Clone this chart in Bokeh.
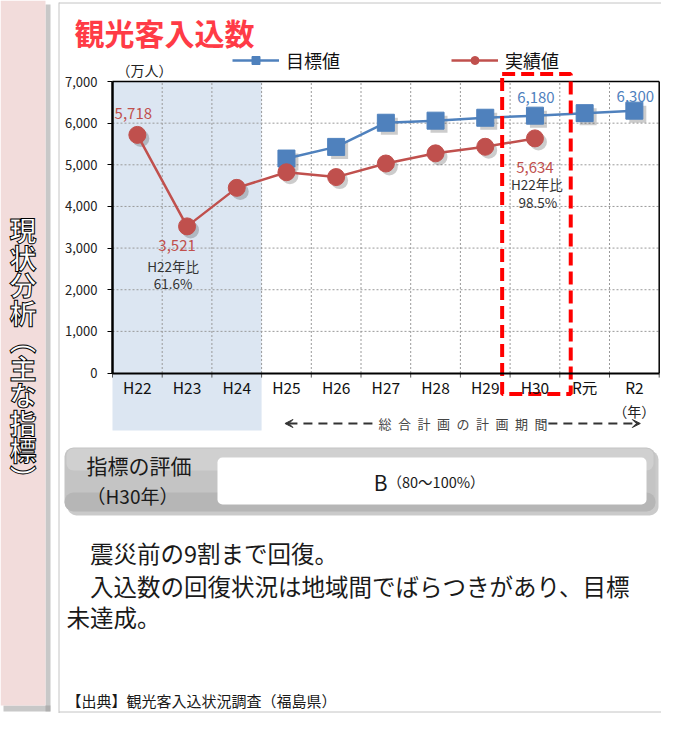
from bokeh.plotting import figure
from bokeh.models import (ColumnDataSource, Range1d, FixedTicker, NumeralTickFormatter,
                          LinearAxis, Legend, LegendItem, Arrow, VeeHead, BoxAnnotation)
from bokeh.core.properties import value
from bokeh.transform import dodge
from bokeh.embed import file_html
from bokeh.resources import INLINE

# ---------------- data ----------------
years = ["H22", "H23", "H24", "H25", "H26", "H27", "H28", "H29", "H30", "R元", "R2"]
target_years = ["H25", "H26", "H27", "H28", "H29", "H30", "R元", "R2"]
target_vals = [5150, 5430, 6010, 6060, 6130, 6180, 6240, 6300]
actual_years = ["H22", "H23", "H24", "H25", "H26", "H27", "H28", "H29", "H30"]
actual_vals = [5718, 3521, 4446, 4821, 4705, 5031, 5275, 5433, 5634]
y_ticks = [0, 1000, 2000, 3000, 4000, 5000, 6000, 7000]
shaded_years = ["H22", "H23", "H24"]
highlight_year = "H30"

title_text = "観光客入込数"
unit_text = "（万人）"
year_unit_text = "（年）"
period_text = "\u2002".join("総合計画の計画期間")
side_text = "現状分析︵主な指標︶"
eval_head = ["指標の評価", "（H30年）"]
eval_grade = "B"
eval_range = "（80〜100%）"
body_lines = ["\u3000震災前の9割まで回復。",
              "\u3000入込数の回復状況は地域間でばらつきがあり、目標",
              "未達成。"]
source_text = "【出典】観光客入込状況調査（福島県）"

BLUE = "#4F81BD"
RED = "#C0504D"
JP = "Noto Sans CJK JP"
FONT = value(JP)

W, H = 661, 713
# layout geometry (pixels inside the figure)
AX_X0 = 112.0          # left edge of the first category
CAT_W = 49.7           # width of one category
ZERO_Y = 372.5         # pixel row of value 0
PX_PER_UNIT = 41.64 / 1000.0

n = len(years)
x_lo = (0 - AX_X0) / CAT_W
x_hi = (W - AX_X0) / CAT_W
y_hi = ZERO_Y / PX_PER_UNIT
y_lo = (ZERO_Y - H) / PX_PER_UNIT

p = figure(width=W, height=H, x_range=Range1d(x_lo, x_hi), y_range=Range1d(y_lo, y_hi),
           toolbar_location=None, output_backend="svg", min_border=0,
           x_axis_location=None, y_axis_location=None, outline_line_color=None,
           background_fill_color="white", border_fill_color="white")
p.grid.visible = False
p.extra_x_ranges = {"px": Range1d(0, W)}
p.extra_y_ranges = {"py": Range1d(H, 0)}
PXR = dict(x_range_name="px", y_range_name="py")

pos = {y: i + 0.5 for i, y in enumerate(years)}

# ---------------- sidebar & panel frame ----------------
p.quad(left=[45], right=[50], top=[4], bottom=[711], fill_color="#9a9a9a",
       fill_alpha=0.55, line_color=None, **PXR)
p.quad(left=[3], right=[50], top=[705], bottom=[711], fill_color="#9a9a9a",
       fill_alpha=0.55, line_color=None, **PXR)
p.quad(left=[0], right=[45], top=[0], bottom=[705], fill_color="#F2DCDB",
       line_color=None, **PXR)
p.segment(x0=[58.5], x1=[58.5], y0=[2], y1=[H], line_color="#c4c4c4", line_width=1, **PXR)
p.segment(x0=[58.5], x1=[W], y0=[2.5], y1=[2.5], line_color="#c4c4c4", line_width=1,
          **PXR)
p.segment(x0=[58.5], x1=[W], y0=[H - 1.5], y1=[H - 1.5], line_color="#c4c4c4",
          line_width=1, **PXR)
chars = list(side_text)
p.text(x=[22.5] * len(chars), y=[229 + 27.5 * i for i in range(len(chars))], text=chars,
       text_font=FONT, text_font_size="27px", text_font_style="bold",
       text_color="white", text_outline_color="black",
       text_align="center", text_baseline="middle", **PXR)

# title
p.text(x=[74], y=[31], text=[title_text], text_font=FONT, text_font_size="30px",
       text_font_style="bold", text_color="#FF3B46", text_align="left",
       text_baseline="middle", **PXR)

# ---------------- chart ----------------
top_v = y_ticks[-1]
# shaded earthquake period
p.quad(left=[pos[shaded_years[0]] - 0.5], right=[pos[shaded_years[-1]] + 0.5],
       bottom=[-1381], top=[top_v], fill_color="#DCE6F2", line_color=None)

# grid
p.segment(x0=[0] * (len(y_ticks) - 1), x1=[n] * (len(y_ticks) - 1), y0=y_ticks[1:],
          y1=y_ticks[1:], line_color="#9a9a9a", line_dash="2 2", line_width=1)
p.segment(x0=list(range(1, n)), x1=list(range(1, n)), y0=[0] * (n - 1),
          y1=[top_v] * (n - 1), line_color="#9a9a9a", line_dash="2 2", line_width=1)
# small category-boundary ticks under the axis
p.segment(x0=list(range(0, n + 1)), x1=list(range(0, n + 1)), y0=[0] * (n + 1),
          y1=[-110] * (n + 1), line_color="#555555", line_width=1)
# plot box top / right
p.segment(x0=[0, n], x1=[n, n], y0=[top_v, 0], y1=[top_v, top_v], line_color="black",
          line_width=1.5)

# axes
xa = LinearAxis(fixed_location=0, bounds=(0, n),
                ticker=FixedTicker(ticks=[pos[y] for y in years]),
                major_label_overrides={pos[y]: y for y in years},
                axis_line_color="black", axis_line_width=2,
                major_tick_line_color=None, minor_tick_line_color=None,
                major_tick_in=0, major_tick_out=0,
                major_label_standoff=3, major_label_text_font=JP,
                major_label_text_font_size="15.5px", major_label_text_color="#111111")
p.add_layout(xa, "below")
ya_ax = LinearAxis(fixed_location=0, bounds=(y_ticks[0], y_ticks[-1]),
                   ticker=FixedTicker(ticks=y_ticks),
                   formatter=NumeralTickFormatter(format="0,0"),
                   axis_line_color="black", axis_line_width=2.5,
                   major_tick_in=0, major_tick_out=5, major_tick_line_color="black",
                   minor_tick_line_color=None, major_label_standoff=10,
                   major_label_text_font=JP, major_label_text_font_size="13px",
                   major_label_text_color="#222222")
p.add_layout(ya_ax, "left")

# series
tsrc = ColumnDataSource(dict(x=[pos[y] for y in target_years], y=target_vals))
asrc = ColumnDataSource(dict(x=[pos[y] for y in actual_years], y=actual_vals))
p.scatter(x=dodge("x", 0.07), y=dodge("y", -85), source=tsrc, marker="square", size=17,
          fill_color="black", fill_alpha=0.2, line_color=None)
p.scatter(x=dodge("x", 0.07), y=dodge("y", -85), source=asrc, marker="circle", size=17,
          fill_color="black", fill_alpha=0.2, line_color=None)
bl = p.line(x="x", y="y", source=tsrc, line_color=BLUE, line_width=2.5)
rl = p.line(x="x", y="y", source=asrc, line_color=RED, line_width=2.5)
bs = p.scatter(x="x", y="y", source=tsrc, marker="square", size=17, fill_color=BLUE,
               line_color=BLUE)
rs = p.scatter(x="x", y="y", source=asrc, marker="circle", size=17, fill_color=RED,
               line_color=RED)

# data labels
base = actual_vals[0]
low_i = actual_vals.index(min(actual_vals))
last_i = len(actual_vals) - 1
ht = target_years.index(highlight_year)
lab = dict(x=[pos[actual_years[0]], pos[actual_years[low_i]], pos[actual_years[last_i]],
              pos[target_years[ht]], pos[target_years[-1]]],
           y=[actual_vals[0], actual_vals[low_i], actual_vals[last_i],
              target_vals[ht], target_vals[-1]],
           xo=[-4, -10, 0, 1, 1], yo=[-21, 19, 29, -18, -14],
           c=[RED, RED, RED, BLUE, BLUE])
lab["t"] = [f"{v:,}" for v in lab["y"]]
p.text(x="x", y="y", text="t", x_offset="xo", y_offset="yo", text_color="c",
       source=ColumnDataSource(lab), text_font=FONT, text_font_size="15px",
       text_align="center", text_baseline="middle")
rat = dict(x=[pos[actual_years[low_i]]] * 2 + [pos[actual_years[last_i]]] * 2,
           y=[actual_vals[low_i]] * 2 + [actual_vals[last_i]] * 2,
           xo=[-14, -14, 2, 3], yo=[40, 57, 46, 64],
           t=[f"{actual_years[0]}年比", f"{actual_vals[low_i] / base * 100:.1f}%",
              f"{actual_years[0]}年比", f"{actual_vals[last_i] / base * 100:.1f}%"])
p.text(x="x", y="y", text="t", x_offset="xo", y_offset="yo", source=ColumnDataSource(rat),
       text_color="#333333", text_font=FONT, text_font_size="13.5px",
       text_align="center", text_baseline="middle")

# highlight box around H30
hc = pos[highlight_year]
p.quad(left=[hc - 0.66], right=[hc + 0.72], bottom=[-504], top=[7180],
       fill_color=None, line_color="#FF0000", line_width=4, line_dash="13 6")

# unit labels
p.text(x=[0], y=[top_v], text=[unit_text], x_offset=[4], y_offset=[-12],
       text_font=FONT, text_font_size="14px", text_color="#222222",
       text_align="left", text_baseline="middle")
p.text(x=[pos[years[-1]]], y=[0], text=[year_unit_text], y_offset=[38], text_font=FONT,
       text_font_size="14px", text_color="#222222", text_align="center",
       text_baseline="middle")

# planning period arrows
ya = -1213
for xs, xe in [(5.23, 3.47), (8.77, 10.62)]:
    p.add_layout(Arrow(x_start=xs, y_start=ya, x_end=xe, y_end=ya, line_color="#333333",
                       line_width=2, line_dash="9 6",
                       end=VeeHead(size=8, fill_color="#333333", line_color="#333333",
                                   line_width=1)))
p.text(x=[7.05], y=[ya], text=[period_text], text_font=FONT, text_font_size="13px",
       text_color="#444444", text_align="center", text_baseline="middle")

# legend
legend = Legend(items=[LegendItem(label="目標値", renderers=[bl, bs]),
                       LegendItem(label="実績値", renderers=[rl, rs])],
                orientation="horizontal", location=(232, 640), spacing=111,
                padding=0, margin=0, glyph_width=47, glyph_height=20,
                label_standoff=7, label_text_font=JP, label_text_font_size="18px",
                label_text_color="#111111", border_line_color=None,
                background_fill_alpha=0)
p.add_layout(legend)

# ---------------- evaluation box & text ----------------
for l, r, t, b, c, a, rad in [(67, 658, 450, 515, "#8a8a8a", 0.45, 9),
                              (64, 655, 447, 511, "#c4c4c4", 1.0, 9),
                              (66, 653, 448, 470, "#d8d8d8", 0.6, 7),
                              (64, 655, 492, 511, "#a8a8a8", 0.5, 9),
                              (217, 646, 457, 504, "#ffffff", 1.0, 5)]:
    p.add_layout(BoxAnnotation(left=l, right=r, top=t, bottom=b, fill_color=c,
                               fill_alpha=a, line_color=None, border_radius=rad,
                               level="underlay", **PXR))
p.text(x=[86, 86], y=[464, 495], text=eval_head, text_font=FONT,
       text_font_size=["21px", "19px"], text_color="#1a1a1a", text_align="left",
       text_baseline="middle", **PXR)
p.text(x=[387], y=[481], text=[eval_grade], text_font=FONT, text_font_size="21px",
       text_color="#1a1a1a", text_align="right", text_baseline="middle", **PXR)
p.text(x=[387], y=[481], text=[eval_range], text_font=FONT, text_font_size="14.5px",
       text_color="#1a1a1a", text_align="left", text_baseline="middle", **PXR)
p.text(x=[66, 66, 66], y=[552, 585, 616], text=body_lines, text_font=FONT,
       text_font_size="23.5px", text_color="#1a1a1a", text_align="left",
       text_baseline="middle", **PXR)
p.text(x=[66], y=[700], text=[source_text], text_font=FONT, text_font_size="15px",
       text_color="#1a1a1a", text_align="left", text_baseline="middle", **PXR)

open("out.html", "w").write(file_html(p, INLINE))
